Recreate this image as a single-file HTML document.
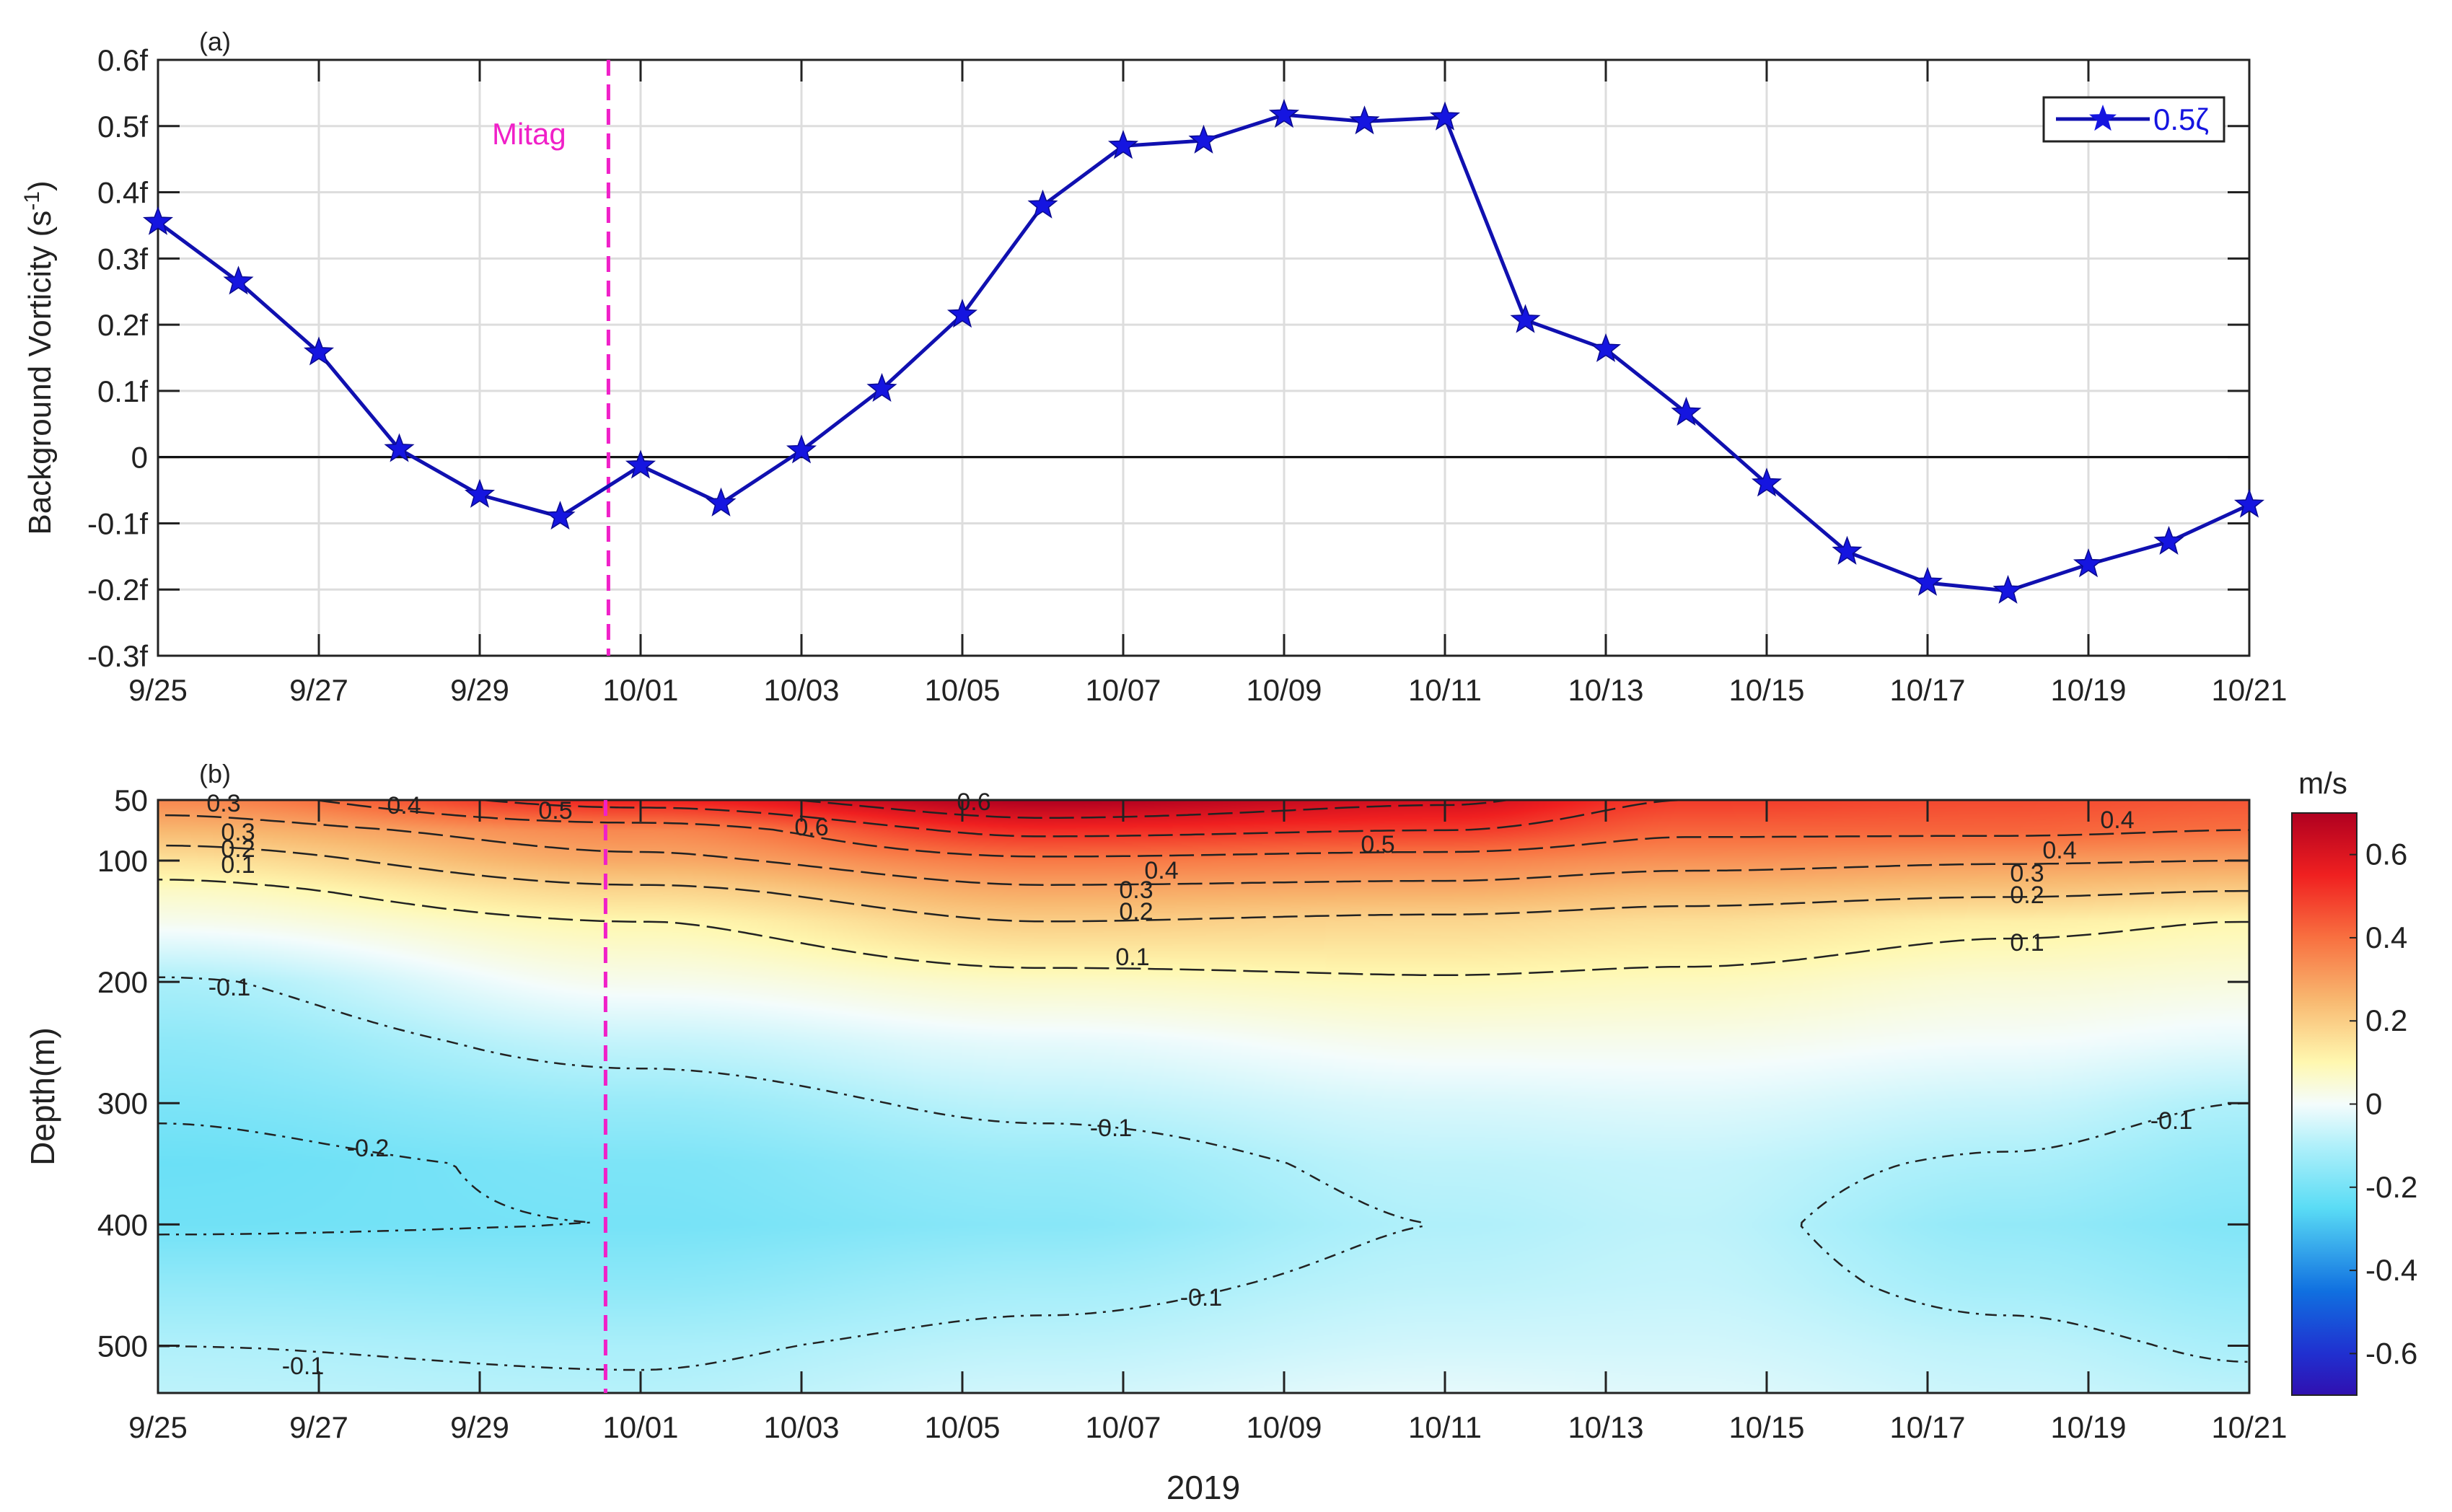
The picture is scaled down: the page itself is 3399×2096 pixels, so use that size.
<!DOCTYPE html>
<html><head><meta charset="utf-8">
<style>
html,body{margin:0;padding:0;background:#fff;}
#wrap{position:relative;width:3399px;height:2096px;overflow:hidden;font-family:"Liberation Sans",sans-serif;}
svg{position:absolute;left:0;top:0;}
canvas{position:absolute;}
</style></head>
<body>
<div id="wrap">
<canvas id="heat"></canvas>
<svg id="svg" width="3399" height="2096"></svg>
</div>
<script>
// ---- data panel (a) ----
const dateLabels = ["9/25","9/27","9/29","10/01","10/03","10/05","10/07","10/09","10/11","10/13","10/15","10/17","10/19","10/21"];
const vorticity = [0.355,0.265,0.158,0.012,-0.057,-0.09,-0.013,-0.07,0.01,0.103,0.215,0.38,0.47,0.478,0.517,0.507,0.513,0.207,0.163,0.067,-0.04,-0.143,-0.19,-0.202,-0.162,-0.128,-0.072];
const yTicksA = [0.6,0.5,0.4,0.3,0.2,0.1,0,-0.1,-0.2,-0.3];
const mitagDay = 5.6;
// ---- data panel (b) ----
const gridDays = [0,6,11,16,19,23,26];
const gridDepths = [50,75,100,125,150,200,250,300,350,400,450,500,540];
const gridVel = [
 [0.35,0.25,0.15,0.07,0.02,-0.11,-0.16,-0.19,-0.22,-0.21,-0.15,-0.10,-0.08],
 [0.55,0.35,0.28,0.18,0.10,0.02,-0.07,-0.14,-0.19,-0.20,-0.16,-0.11,-0.09],
 [0.70,0.53,0.38,0.28,0.20,0.07,-0.02,-0.08,-0.14,-0.17,-0.12,-0.08,-0.05],
 [0.62,0.50,0.36,0.27,0.18,0.09,0.02,-0.04,-0.08,-0.10,-0.08,-0.05,-0.02],
 [0.50,0.42,0.33,0.24,0.16,0.08,0.02,-0.03,-0.07,-0.08,-0.07,-0.05,-0.03],
 [0.47,0.42,0.31,0.22,0.12,0.05,0.00,-0.06,-0.11,-0.15,-0.12,-0.08,-0.06],
 [0.45,0.40,0.30,0.20,0.10,0.04,-0.02,-0.10,-0.15,-0.18,-0.15,-0.11,-0.08]
];
const depthTicks = [50,100,200,300,400,500];
const contourLevels = [-0.2,-0.1,0.1,0.2,0.3,0.4,0.5,0.6];
const cbTicks = [0.6,0.4,0.2,0,-0.2,-0.4,-0.6];

const NS="http://www.w3.org/2000/svg";
const svg=document.getElementById('svg');
function el(tag,attrs,parent){const e=document.createElementNS(NS,tag);for(const k in attrs)e.setAttribute(k,attrs[k]);(parent||svg).appendChild(e);return e;}
function txt(s,x,y,size,anchor,fill,parent){const t=el('text',{x:x,y:y,'font-size':size,'text-anchor':anchor||'middle','font-family':'Liberation Sans, sans-serif',fill:fill||'#222'},parent);t.textContent=s;return t;}

const X0=219,X1=3118,NDAYS=26;
const xDay=d=>X0+d*(X1-X0)/NDAYS;
const AY0=83,AY1=909;
const yA=v=>AY0+(0.6-v)/0.9*(AY1-AY0);
const BY0=1109,BY1=1931,DMIN=50,DMAX=539;
const yB=z=>BY0+(z-DMIN)/(DMAX-DMIN)*(BY1-BY0);

// ---------- Panel (a) ----------
const ga=el('g',{});


el('rect',{x:X0,y:AY0,width:X1-X0,height:AY1-AY0,fill:'#fff'},ga);
yTicksA.forEach(v=>{
  const g=el('line',{x1:X0,x2:X1,y1:yA(v),y2:yA(v),stroke:v===0?'#111':'#ddd','stroke-width':3},ga);
  
  
  el('line',{x1:X0,x2:X0+30,y1:yA(v),y2:yA(v),stroke:'#222','stroke-width':3},ga);
  el('line',{x1:X1,x2:X1-30,y1:yA(v),y2:yA(v),stroke:'#222','stroke-width':3},ga);
  const lab=v===0?'0':(Math.round(v*10)/10)+'f';
  const t=txt(lab,X0-14,yA(v)+15,42,'end','#222',ga);
  
  
});
dateLabels.forEach((s,i)=>{
  const x=xDay(i*2);
  el('line',{x1:x,x2:x,y1:AY0,y2:AY1,stroke:'#ddd','stroke-width':3},ga);
  el('line',{x1:x,x2:x,y1:AY0,y2:AY0+30,stroke:'#222','stroke-width':3},ga);
  el('line',{x1:x,x2:x,y1:AY1,y2:AY1-30,stroke:'#222','stroke-width':3},ga);
  const t=txt(s,x,AY1+62,42,'middle','#222',ga);
  
  
});
el('line',{x1:X0,x2:X1,y1:yA(0),y2:yA(0),stroke:'#111','stroke-width':3},ga);
el('rect',{x:X0,y:AY0,width:X1-X0,height:AY1-AY0,fill:'none',stroke:'#222','stroke-width':3},ga);
const ml=el('line',{x1:xDay(mitagDay),x2:xDay(mitagDay),y1:AY0,y2:AY1,stroke:'#f020c8','stroke-width':5,'stroke-dasharray':'22,12'},ga);


const mt=txt('Mitag',xDay(mitagDay)-110,200,42,'middle','#f020c8',ga);


const pa=txt('(a)',298,70,36,'middle','#222');


const yl=el('text',{x:0,y:0,'font-size':44,'text-anchor':'middle','font-family':'Liberation Sans, sans-serif',fill:'#222',transform:`translate(70,${(AY0+AY1)/2}) rotate(-90)`});
yl.innerHTML='Background Vorticity (s<tspan dy="-16" font-size="30">-1</tspan><tspan dy="16">)</tspan>';



function starPath(cx,cy,r){let p='';for(let i=0;i<10;i++){const rr=i%2?r*0.42:r;const a=-Math.PI/2+i*Math.PI/5;p+=(i?'L':'M')+(cx+rr*Math.cos(a)).toFixed(1)+','+(cy+rr*Math.sin(a)).toFixed(1);}return p+'Z';}
const line=el('polyline',{points:vorticity.map((v,i)=>xDay(i)+','+yA(v)).join(' '),fill:'none',stroke:'#1010b0','stroke-width':5},ga);


vorticity.forEach((v,i)=>{
  const s=el('path',{d:starPath(xDay(i),yA(v),20),fill:'#1515e0',stroke:'#0a0a90','stroke-width':1.5},ga);
  
  
});
// legend
const lg=el('g',{});


el('rect',{x:2833,y:135,width:250,height:61,fill:'#fff',stroke:'#222','stroke-width':3},lg);
el('line',{x1:2850,x2:2980,y1:165,y2:165,stroke:'#1010b0','stroke-width':5},lg);
el('path',{d:starPath(2915,165,20),fill:'#1515e0'},lg);
txt('0.5ζ',2985,180,42,'start','#1515e0',lg);

// ---------- Panel (b) ----------
function field(d,z){
  let i=0;while(i<gridDays.length-2&&d>gridDays[i+1])i++;
  let j=0;while(j<gridDepths.length-2&&z>gridDepths[j+1])j++;
  let tx=(d-gridDays[i])/(gridDays[i+1]-gridDays[i]);tx=Math.max(0,Math.min(1,tx));
  let ty=(z-gridDepths[j])/(gridDepths[j+1]-gridDepths[j]);ty=Math.max(0,Math.min(1,ty));
  tx=tx*tx*(3-2*tx);
  const a=gridVel[i][j],b=gridVel[i+1][j],c=gridVel[i][j+1],e=gridVel[i+1][j+1];
  return (a*(1-tx)+b*tx)*(1-ty)+(c*(1-tx)+e*tx)*ty;
}
const cmapV=[0.7,0.55,0.4,0.25,0.1,0,-0.1,-0.25,-0.45,-0.6,-0.7];
const cmapC=[[176,0,32],[240,32,32],[248,112,64],[248,184,112],[255,248,176],[244,252,252],[176,240,250],[90,220,245],[16,112,224],[32,48,208],[48,16,176]];
function color(v){
  if(v>=cmapV[0])return cmapC[0];
  for(let k=0;k<cmapV.length-1;k++){if(v<=cmapV[k]&&v>=cmapV[k+1]){const t=(cmapV[k]-v)/(cmapV[k]-cmapV[k+1]);return cmapC[k].map((c,m)=>c+(cmapC[k+1][m]-c)*t);}}
  return cmapC[cmapC.length-1];
}
const cv=document.getElementById('heat');
const W=X1-X0,H=BY1-BY0;
cv.width=W/2;cv.height=H/2;cv.style.left=X0+'px';cv.style.top=BY0+'px';cv.style.width=W+'px';cv.style.height=H+'px';
const ctx=cv.getContext('2d');const img=ctx.createImageData(cv.width,cv.height);
for(let py=0;py<cv.height;py++){const z=DMIN+(py+0.5)/cv.height*(DMAX-DMIN);
 for(let px=0;px<cv.width;px++){const d=(px+0.5)/cv.width*NDAYS;const c=color(field(d,z));const o=(py*cv.width+px)*4;img.data[o]=c[0];img.data[o+1]=c[1];img.data[o+2]=c[2];img.data[o+3]=255;}}
ctx.putImageData(img,0,0);

// contours (marching squares, chained into polylines)
const gb=el('g',{});


const NX=260,NY=160;
const F=[];for(let j=0;j<=NY;j++){F.push([]);const z=DMIN+j/NY*(DMAX-DMIN);for(let i=0;i<=NX;i++)F[j].push(field(i/NX*NDAYS,z));}
const px=i=>X0+i/NX*W,py=j=>BY0+j/NY*H;
contourLevels.forEach(L=>{
  const segs=[];
  for(let j=0;j<NY;j++)for(let i=0;i<NX;i++){
    const v=[F[j][i],F[j][i+1],F[j+1][i+1],F[j+1][i]];
    const P=[[i,j],[i+1,j],[i+1,j+1],[i,j+1]];
    const pts=[];
    for(let k=0;k<4;k++){const a=v[k],b=v[(k+1)%4];if((a<L)!==(b<L)){const t=(L-a)/(b-a);const A=P[k],B=P[(k+1)%4];pts.push([+px(A[0]+(B[0]-A[0])*t).toFixed(1),+py(A[1]+(B[1]-A[1])*t).toFixed(1)]);}}
    if(pts.length>=2)segs.push([pts[0],pts[1]]);
    if(pts.length===4)segs.push([pts[2],pts[3]]);
  }
  // chain segments
  const key=p=>p[0]+','+p[1];
  const map=new Map();
  segs.forEach((s,idx)=>{[0,1].forEach(e=>{const k=key(s[e]);if(!map.has(k))map.set(k,[]);map.get(k).push(idx);});});
  const used=new Array(segs.length).fill(false);
  let d='';
  for(let s0=0;s0<segs.length;s0++){
    if(used[s0])continue;used[s0]=true;
    let chain=[segs[s0][0],segs[s0][1]];
    for(const dir of [1,0]){
      let going=true;
      while(going){
        const end=dir?chain[chain.length-1]:chain[0];
        const cands=(map.get(key(end))||[]).filter(x=>!used[x]);
        if(!cands.length){going=false;break;}
        const n=cands[0];used[n]=true;
        const s=segs[n];const other=key(s[0])===key(end)?s[1]:s[0];
        if(dir)chain.push(other);else chain.unshift(other);
      }
    }
    d+='M'+chain.map(p=>p[0]+','+p[1]).join('L');
  }
  const c=el('path',{d:d,fill:'none',stroke:'#222','stroke-width':2.5,'stroke-dasharray':L>0?'34,10':'16,9,4,9'},gb);
  
  
});
// contour labels
[['0.3',310,1125],['0.4',560,1128],['0.5',770,1135],['0.6',1350,1123],['0.6',1125,1158],['0.5',1910,1182],['0.3',330,1165],['0.2',330,1188],['0.1',330,1210],['0.4',1610,1218],['0.3',1575,1245],['0.2',1575,1275],['0.1',1570,1338],['0.4',2935,1148],['0.4',2855,1190],['0.3',2810,1222],['0.2',2810,1252],['0.1',2810,1318],['-0.1',318,1380],['-0.2',510,1603],['-0.1',1540,1575],['-0.1',1665,1810],['-0.1',420,1905],['-0.1',3010,1565]].forEach(a=>{
  const t=txt(a[0],a[1],a[2],34,'middle','#222',gb);
  
  
});
el('rect',{x:X0,y:BY0,width:W,height:H,fill:'none',stroke:'#222','stroke-width':3},gb);
depthTicks.forEach(z=>{
  el('line',{x1:X0,x2:X0+30,y1:yB(z),y2:yB(z),stroke:'#222','stroke-width':3},gb);
  el('line',{x1:X1,x2:X1-30,y1:yB(z),y2:yB(z),stroke:'#222','stroke-width':3},gb);
  const t=txt(String(z),X0-14,yB(z)+15,42,'end','#222',gb);
  
  
});
dateLabels.forEach((s,i)=>{
  const x=xDay(i*2);
  el('line',{x1:x,x2:x,y1:BY0,y2:BY0+30,stroke:'#222','stroke-width':3},gb);
  el('line',{x1:x,x2:x,y1:BY1,y2:BY1-30,stroke:'#222','stroke-width':3},gb);
  const t=txt(s,x,BY1+62,42,'middle','#222',gb);
  
  
});
const ml2=el('line',{x1:xDay(mitagDay)-4,x2:xDay(mitagDay)-4,y1:BY0,y2:BY1,stroke:'#f020c8','stroke-width':5,'stroke-dasharray':'22,12'},gb);


const pb=txt('(b)',298,1085,36,'middle','#222');


const yl2=txt('Depth(m)',0,0,46,'middle','#222');
yl2.setAttribute('transform',`translate(75,${(BY0+BY1)/2}) rotate(-90)`);


const xt=txt('2019',1668,2078,46,'middle','#222');



// colorbar
const CB0=1127,CB1=1934,CX0=3177,CX1=3267;
const yC=v=>CB0+(0.7-v)/1.4*(CB1-CB0);
const cbg=el('g',{});


const defs=el('defs',{});const grad=el('linearGradient',{id:'cbgrad',x1:0,y1:0,x2:0,y2:1},defs);
cmapV.forEach((v,k)=>el('stop',{offset:((0.7-v)/1.4),'stop-color':`rgb(${cmapC[k].join(',')})`},grad));
el('rect',{x:CX0,y:CB0,width:CX1-CX0,height:CB1-CB0,fill:'url(#cbgrad)',stroke:'#222','stroke-width':2},cbg);
cbTicks.forEach(v=>{
  el('line',{x1:CX1-10,x2:CX1,y1:yC(v),y2:yC(v),stroke:'#222','stroke-width':2},cbg);
  const t=txt(String(v),CX1+12,yC(v)+14,42,'start','#222',cbg);
  
  
});
const ut=txt('m/s',3220,1100,42,'middle','#222',cbg);


</script>
</body></html>
